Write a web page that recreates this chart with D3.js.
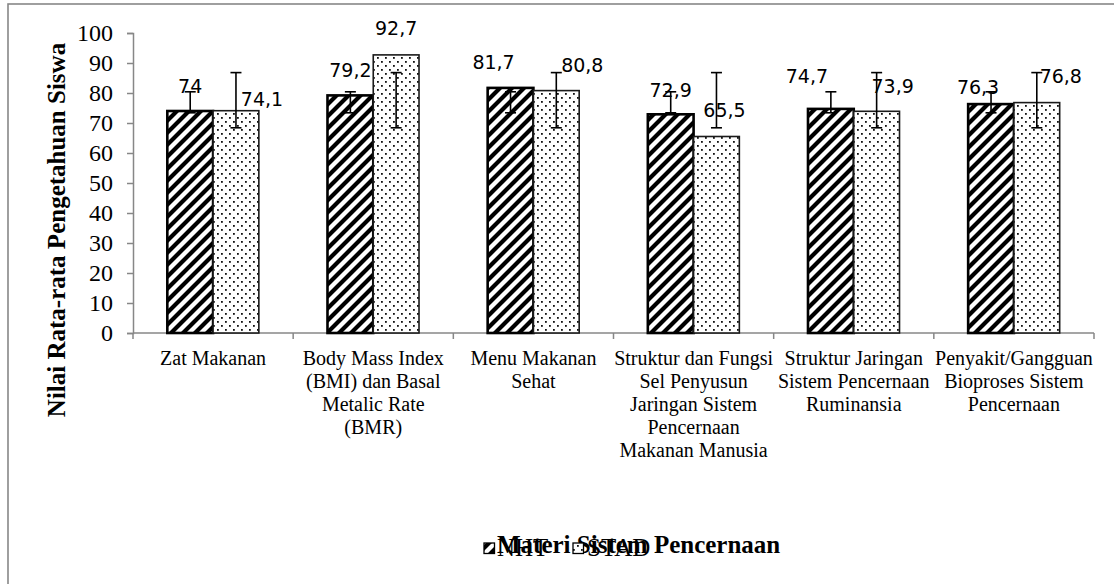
<!DOCTYPE html>
<html>
<head>
<meta charset="utf-8">
<script src="https://cdn.jsdelivr.net/npm/d3@7"></script>
<style>
  html, body { margin: 0; padding: 0; background: #fff; }
  svg { display: block; }
</style>
</head>
<body>
<svg id="chart" width="1114" height="584"></svg>
<script>
// ---------- data ----------
const categories = [
  "Zat Makanan",
  "Body Mass Index (BMI) dan Basal Metalic Rate (BMR)",
  "Menu Makanan Sehat",
  "Struktur dan Fungsi Sel Penyusun Jaringan Sistem Pencernaan Makanan Manusia",
  "Struktur Jaringan Sistem Pencernaan Ruminansia",
  "Penyakit/Gangguan Bioproses Sistem Pencernaan"
];
const categoryLines = [
  ["Zat Makanan"],
  ["Body Mass Index", "(BMI) dan Basal", "Metalic Rate", "(BMR)"],
  ["Menu Makanan", "Sehat"],
  ["Struktur dan Fungsi", "Sel Penyusun", "Jaringan Sistem", "Pencernaan", "Makanan Manusia"],
  ["Struktur Jaringan", "Sistem Pencernaan", "Ruminansia"],
  ["Penyakit/Gangguan", "Bioproses Sistem", "Pencernaan"]
];
const seriesNames = ["NHT", "STAD"];
const nhtValues  = [74, 79.2, 81.7, 72.9, 74.7, 76.3];
const stadValues = [74.1, 92.7, 80.8, 65.5, 73.9, 76.8];
const nhtErrLow   = [73.4, 73.4, 73.4, 73.4, 73.4, 73.4];
const nhtErrHigh  = [80.4, 80.4, 80.4, 80.4, 80.4, 80.4];
const stadErrLow  = [68.4, 68.4, 68.4, 68.4, 68.4, 68.4];
const stadErrHigh = [86.8, 86.8, 86.8, 86.8, 86.8, 86.8];
const yTicks = [0, 10, 20, 30, 40, 50, 60, 70, 80, 90, 100];
const yTitle = "Nilai Rata-rata Pengetahuan Siswa";
const xTitle = "Materi Sistem Pencernaan";

// label placement nudges (dx, dy from bar centre / bar top) as in the original
const nhtLabelShift  = [[0,-18],[0,-18],[-17,-19],[0,-17],[-24,-26],[-13,-10]];
const stadLabelShift = [[26,-5],[0,-20],[26,-19],[8,-20],[16,-18],[24,-20]];

// ---------- layout ----------
const svg = d3.select("#chart");
const plot = { left: 133, right: 1094, top: 33, bottom: 333 };
const SERIF = "'Liberation Serif', 'Times New Roman', serif";
const SANS = "'DejaVu Sans', sans-serif";
const AXIS_COLOR = "#878787";

const x = d3.scaleBand().domain(categories).range([plot.left, plot.right]).paddingInner(0).paddingOuter(0);
const xs = d3.scaleBand().domain(seriesNames).range([0, x.bandwidth()]).paddingInner(0).paddingOuter(0.75);
const y = d3.scaleLinear().domain([0, 100]).range([plot.bottom, plot.top]);

// patterns
const defs = svg.append("defs");
const pStripe = defs.append("pattern").attr("id", "stripes")
  .attr("patternUnits", "userSpaceOnUse").attr("width", 12).attr("height", 12);
pStripe.append("rect").attr("width", 12).attr("height", 12).attr("fill", "#fff");
pStripe.append("path").attr("d", "M-3,3 L3,-3 M0,12 L12,0 M9,15 L15,9")
  .attr("stroke", "#000").attr("stroke-width", 4.2);

const pDots = defs.append("pattern").attr("id", "dots")
  .attr("patternUnits", "userSpaceOnUse").attr("width", 8).attr("height", 8);
pDots.append("rect").attr("width", 8).attr("height", 8).attr("fill", "#fff");
pDots.append("rect").attr("x", 1).attr("y", 1).attr("width", 1.8).attr("height", 1.8).attr("fill", "#111");
pDots.append("rect").attr("x", 5).attr("y", 5).attr("width", 1.8).attr("height", 1.8).attr("fill", "#111");

// outer frame
svg.append("rect").attr("x", 8).attr("y", 4).attr("width", 1130).attr("height", 600)
  .attr("fill", "none").attr("stroke", AXIS_COLOR).attr("stroke-width", 1.6);

// y axis
const yAxis = svg.append("g").attr("transform", `translate(${plot.left},0)`)
  .call(d3.axisLeft(y).tickValues(yTicks).tickSize(6).tickPadding(14).tickFormat(d3.format("d")));
yAxis.select(".domain").attr("stroke", AXIS_COLOR).attr("stroke-width", 1.5);
yAxis.selectAll(".tick line").attr("stroke", AXIS_COLOR).attr("stroke-width", 1.5);
yAxis.selectAll(".tick text").attr("font-family", SERIF).attr("font-size", 24).attr("fill", "#000");

// x axis line and ticks
const xEdges = categories.map(c => x(c)).concat([x(categories[categories.length - 1]) + x.bandwidth()]);
svg.append("line").attr("x1", plot.left).attr("x2", plot.right)
  .attr("y1", y(0)).attr("y2", y(0)).attr("stroke", AXIS_COLOR).attr("stroke-width", 1.5);
svg.selectAll(".xtick").data(xEdges).join("line").attr("class", "xtick")
  .attr("x1", d => d).attr("x2", d => d).attr("y1", y(0)).attr("y2", y(0) + 6)
  .attr("stroke", AXIS_COLOR).attr("stroke-width", 1.5);

// category labels
const catG = svg.selectAll(".cat").data(categories).join("text").attr("class", "cat")
  .attr("font-family", SERIF).attr("font-size", 20).attr("fill", "#000").attr("text-anchor", "middle");
catG.each(function(c, i) {
  const t = d3.select(this);
  categoryLines[i].forEach((ln, j) => {
    t.append("tspan").attr("x", x(c) + x.bandwidth() / 2).attr("y", 365 + j * 23).text(ln);
  });
});

// bars
const series = [
  { name: "NHT", values: nhtValues, lo: nhtErrLow, hi: nhtErrHigh, fill: "url(#stripes)", sw: 2.6, stroke: "#000", shift: nhtLabelShift },
  { name: "STAD", values: stadValues, lo: stadErrLow, hi: stadErrHigh, fill: "url(#dots)", sw: 1.6, stroke: "#1a1a1a", shift: stadLabelShift }
];

series.forEach(s => {
  const rows = categories.map((c, i) => ({ c, i, v: s.values[i] }));
  svg.append("g").selectAll("rect").data(rows).join("rect")
    .attr("x", d => x(d.c) + xs(s.name))
    .attr("y", d => y(d.v))
    .attr("width", xs.bandwidth())
    .attr("height", d => y(0) - y(d.v))
    .attr("fill", s.fill).attr("stroke", s.stroke).attr("stroke-width", s.sw);
});

// error bars
series.forEach(s => {
  const g = svg.append("g").attr("stroke", "#000").attr("stroke-width", 1.6);
  categories.forEach((c, i) => {
    const cx = x(c) + xs(s.name) + xs.bandwidth() / 2;
    g.append("line").attr("x1", cx).attr("x2", cx).attr("y1", y(s.lo[i])).attr("y2", y(s.hi[i]));
    g.append("line").attr("x1", cx - 5.5).attr("x2", cx + 5.5).attr("y1", y(s.lo[i])).attr("y2", y(s.lo[i]));
    g.append("line").attr("x1", cx - 5.5).attr("x2", cx + 5.5).attr("y1", y(s.hi[i])).attr("y2", y(s.hi[i]));
  });
});

// value labels
series.forEach(s => {
  const rows = categories.map((c, i) => ({ c, i, v: s.values[i] }));
  svg.append("g").selectAll("text").data(rows).join("text")
    .attr("x", d => x(d.c) + xs(s.name) + xs.bandwidth() / 2 + s.shift[d.i][0])
    .attr("y", d => y(d.v) + s.shift[d.i][1])
    .attr("text-anchor", "middle").attr("font-family", SANS).attr("font-size", 19).attr("fill", "#000")
    .text(d => String(d.v).replace(".", ","));
});

// y title
svg.append("text").attr("transform", `translate(65,230) rotate(-90)`)
  .attr("text-anchor", "middle").attr("font-family", SERIF).attr("font-weight", "bold")
  .attr("font-size", 25).attr("fill", "#000").text(yTitle);

// x title
svg.append("text").attr("x", 497).attr("y", 553)
  .attr("font-family", SERIF).attr("font-weight", "bold").attr("font-size", 25).attr("fill", "#000").text(xTitle);

// legend (overlapping the title, as in the original)
const legendPos = [[484, 543, 497], [573, 543, 587]];
series.forEach((s, k) => {
  const [bx, by, tx] = legendPos[k];
  svg.append("rect").attr("x", bx).attr("y", by).attr("width", 10.5).attr("height", 10.5)
    .attr("fill", s.fill).attr("stroke", "#000").attr("stroke-width", 1.3);
  svg.append("text").attr("x", tx).attr("y", 556).attr("font-family", SERIF).attr("font-size", 25)
    .attr("fill", "#000").text(s.name);
});
</script>
</body>
</html>
